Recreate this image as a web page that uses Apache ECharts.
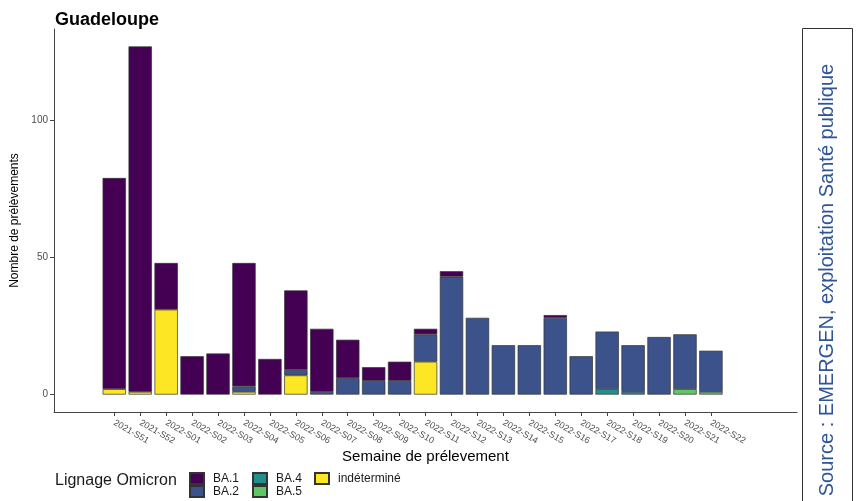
<!DOCTYPE html>
<html>
<head>
<meta charset="utf-8">
<script src="https://cdn.jsdelivr.net/npm/echarts@6/dist/echarts.min.js"></script>
<style>
  html, body {margin: 0; padding: 0; background: #fff;}
  #chart {width: 859px; height: 501px;}
</style>
</head>
<body>
<div id="chart"></div>
<script>
const weeks = ['2021-S51','2021-S52','2022-S01','2022-S02','2022-S03','2022-S04',
               '2022-S05','2022-S06','2022-S07','2022-S08','2022-S09','2022-S10',
               '2022-S11','2022-S12','2022-S13','2022-S14','2022-S15','2022-S16',
               '2022-S17','2022-S18','2022-S19','2022-S20','2022-S21','2022-S22'];
const ba1   = [77,126,17,14,15,45,13,29,23,14,5,7,2,2,0,0,0,1,0,0,0,0,0,0];
const ba2   = [0,0,0,0,0,2,0,2,1,6,5,5,10,43,28,18,18,28,14,21,17,21,20,15];
const ba4   = [0,0,0,0,0,0,0,0,0,0,0,0,0,0,0,0,0,0,0,2,1,0,0,0];
const ba5   = [0,0,0,0,0,0,0,0,0,0,0,0,0,0,0,0,0,0,0,0,0,0,2,1];
const indet = [2,1,31,0,0,1,0,7,0,0,0,0,12,0,0,0,0,0,0,0,0,0,0,0];
const yTicks = [0, 50, 100];

const FONT = 'Liberation Sans, Arial, sans-serif';
const Y_MIN = -6.35, Y_MAX = 133.35;

// bottom of the stack first, like ggplot
const layers = [
  {name: 'indéterminé', color: '#FDE725', data: indet},
  {name: 'BA.5', color: '#5DC863', data: ba5},
  {name: 'BA.4', color: '#21908C', data: ba4},
  {name: 'BA.2', color: '#3B528B', data: ba2},
  {name: 'BA.1', color: '#440154', data: ba1},
];

const legendBase = {
  orient: 'vertical',
  top: 472,
  padding: 0,
  itemWidth: 14,
  itemHeight: 11,
  itemGap: 0,
  icon: 'rect',
  textStyle: {fontFamily: FONT, fontSize: 12, color: '#1a1a1a', lineHeight: 11, padding: [0, 0, 0, 4]},
};

const myChart = echarts.init(document.getElementById('chart'));
myChart.setOption({
  animation: false,
  backgroundColor: '#fff',
  title: [
    {text: 'Guadeloupe', left: 50, top: 6,
     textStyle: {fontFamily: FONT, fontSize: 18, fontWeight: 'bold', color: '#000'}},
    {text: 'Lignage Omicron', left: 50, top: 468,
     textStyle: {fontFamily: FONT, fontSize: 16, fontWeight: 'normal', color: '#1a1a1a'}},
  ],
  legend: [
    Object.assign({left: 189, data: ['BA.1', 'BA.2']}, legendBase),
    Object.assign({left: 252, data: ['BA.4', 'BA.5']}, legendBase),
    Object.assign({left: 314, data: ['indéterminé']}, legendBase),
  ],
  grid: [
    // frame: axis lines, y ticks and axis names
    {left: 54, right: 62, top: 29, bottom: 89},
    // bars: the 24 weeks sit inside the frame
    {left: 101.3, right: 135.1, top: 29, bottom: 89},
  ],
  xAxis: [{
    gridIndex: 0,
    type: 'value',
    min: 0,
    max: 1,
    name: 'Semaine de prélevement',
    nameLocation: 'middle',
    nameGap: 37,
    nameTextStyle: {fontFamily: FONT, fontSize: 15, color: '#000'},
    splitLine: {show: false},
    axisLine: {show: true, onZero: false, lineStyle: {color: '#444', width: 1}},
    axisTick: {show: false},
    axisLabel: {show: false},
  }, {
    gridIndex: 1,
    type: 'category',
    data: weeks,
    axisLine: {show: false, onZero: false},
    axisTick: {show: true, length: 4, alignWithLabel: true, interval: 0, lineStyle: {color: '#444'}},
    axisLabel: {
      interval: 0,
      rotate: -30,
      margin: 10,
      fontFamily: FONT,
      fontSize: 9,
      color: '#4D4D4D',
    },
  }],
  yAxis: [{
    gridIndex: 0,
    type: 'value',
    min: Y_MIN,
    max: Y_MAX,
    name: 'Nombre de prélèvements',
    nameLocation: 'middle',
    nameGap: 31,
    nameTextStyle: {fontFamily: FONT, fontSize: 12, color: '#000'},
    splitLine: {show: false},
    axisLine: {show: true, onZero: false, lineStyle: {color: '#444', width: 1}},
    axisTick: {show: true, length: 4, customValues: yTicks, lineStyle: {color: '#444'}},
    axisLabel: {customValues: yTicks, margin: 6, fontFamily: FONT, fontSize: 10, color: '#4D4D4D'},
  }, {
    gridIndex: 1,
    type: 'value',
    min: Y_MIN,
    max: Y_MAX,
    show: false,
    splitLine: {show: false},
  }],
  series: layers.map(l => ({
    name: l.name,
    type: 'bar',
    xAxisIndex: 1,
    yAxisIndex: 1,
    stack: 'total',
    barWidth: '90%',
    itemStyle: {color: l.color, borderColor: '#333', borderWidth: 0.7},
    data: l.data.map(v => (v === 0 ? '-' : v)),
  })),
  graphic: [
    {type: 'rect', shape: {x: 802.5, y: 28.5, width: 50, height: 490},
     style: {fill: 'none', stroke: '#333', lineWidth: 1}},
    {type: 'text', x: 827, y: 280, rotation: Math.PI / 2,
     style: {text: 'Source : EMERGEN, exploitation Santé publique', fill: '#2F5597',
             font: '20px ' + FONT, align: 'center', verticalAlign: 'middle'}},
  ],
});
</script>
</body>
</html>
